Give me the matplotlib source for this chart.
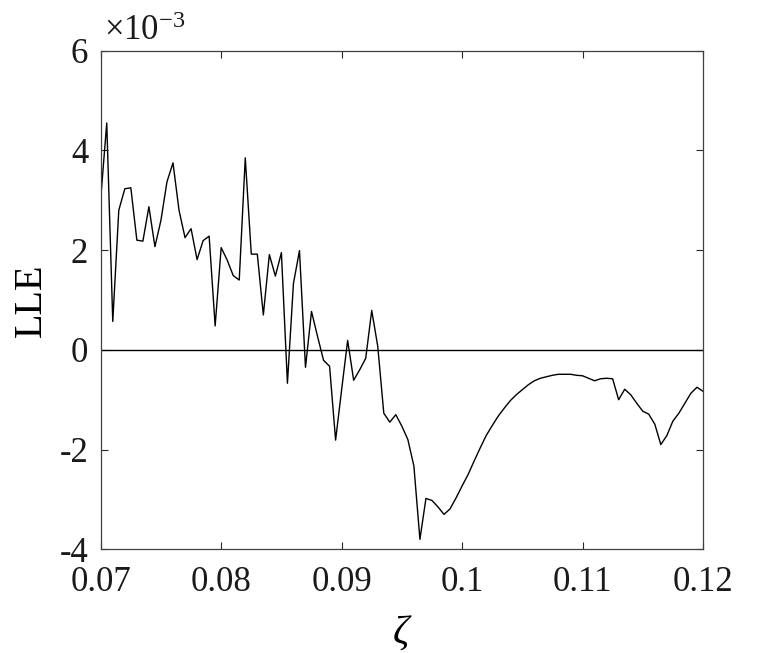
import matplotlib
matplotlib.use("Agg")
import matplotlib.pyplot as plt
import numpy as np

plt.rcParams['font.family'] = ['Liberation Serif', 'DejaVu Serif']
plt.rcParams['mathtext.fontset'] = 'custom'
plt.rcParams['mathtext.rm'] = 'Liberation Serif'
plt.rcParams['mathtext.it'] = 'Liberation Serif:italic'
plt.rcParams['axes.unicode_minus'] = False

zeta_start = 0.07
zeta_step = 0.0005
lle = [  # units of 1e-3
    3.03, 4.55, 0.57, 2.80, 3.23, 3.25, 2.20, 2.18, 2.87, 2.07,
    2.60, 3.37, 3.75, 2.80, 2.25, 2.43, 1.81, 2.19, 2.28, 0.48,
    2.05, 1.80, 1.49, 1.40, 3.85, 1.92, 1.92, 0.70, 1.91, 1.48,
    1.95, -0.67, 1.33, 1.99, -0.35, 0.77, 0.27, -0.21, -0.33, -1.81,
    -0.80, 0.19, -0.61, -0.40, -0.17, 0.79, 0.07, -1.27, -1.45, -1.30,
    -1.53, -1.80, -2.33, -3.80, -2.98, -3.02, -3.15, -3.30, -3.19, -2.97,
    -2.73, -2.50, -2.23, -1.97, -1.72, -1.52, -1.33, -1.17, -1.02, -0.90,
    -0.80, -0.70, -0.62, -0.57, -0.54, -0.51, -0.49, -0.49, -0.49, -0.51,
    -0.52, -0.57, -0.62, -0.58, -0.57, -0.58, -1.00, -0.79, -0.90, -1.07,
    -1.23, -1.29, -1.49, -1.90, -1.72, -1.43, -1.27, -1.07, -0.87, -0.75,
    -0.83,
]
zeta = [zeta_start + i * zeta_step for i in range(len(lle))]

xticks = [0.07, 0.08, 0.09, 0.1, 0.11, 0.12]
xticklabels = ['0.07', '0.08', '0.09', '0.1', '0.11', '0.12']
yticks = [-4, -2, 0, 2, 4, 6]
yticklabels = ['-4', '-2', '0', '2', '4', '6']

fig = plt.figure(figsize=(7.79, 6.53), dpi=100)
ax = fig.add_axes([0.1293, 0.1588, 0.7731, 0.7636])

ax.plot(zeta, lle, color='black', lw=1.0)
ax.axhline(0, color='black', lw=1.0)

ax.set_xlim(0.07, 0.12)
ax.set_ylim(-4, 6)
ax.set_xticks(xticks)
ax.set_xticklabels(xticklabels)
ax.set_yticks(yticks)
ax.set_yticklabels(yticklabels)
ax.tick_params(direction='in', length=5, width=0.8, colors='#262626',
               labelsize=25, labelcolor='#1a1a1a', top=True, right=True)
ax.tick_params(axis='x', pad=12)
ax.tick_params(axis='y', pad=9)
for s in ax.spines.values():
    s.set_color('#404040')
    s.set_linewidth(0.9)

ax.set_xlabel(r'$\zeta$', fontsize=29, labelpad=10)
ax.set_ylabel('LLE', fontsize=29, labelpad=7)
ax.text(0.005, 1.005, r'$\times\mathregular{10}^{\mathregular{-3}}$', transform=ax.transAxes,
        fontsize=25, ha='left', va='bottom', color='#1a1a1a')

fig.savefig('out.png', dpi=100)
